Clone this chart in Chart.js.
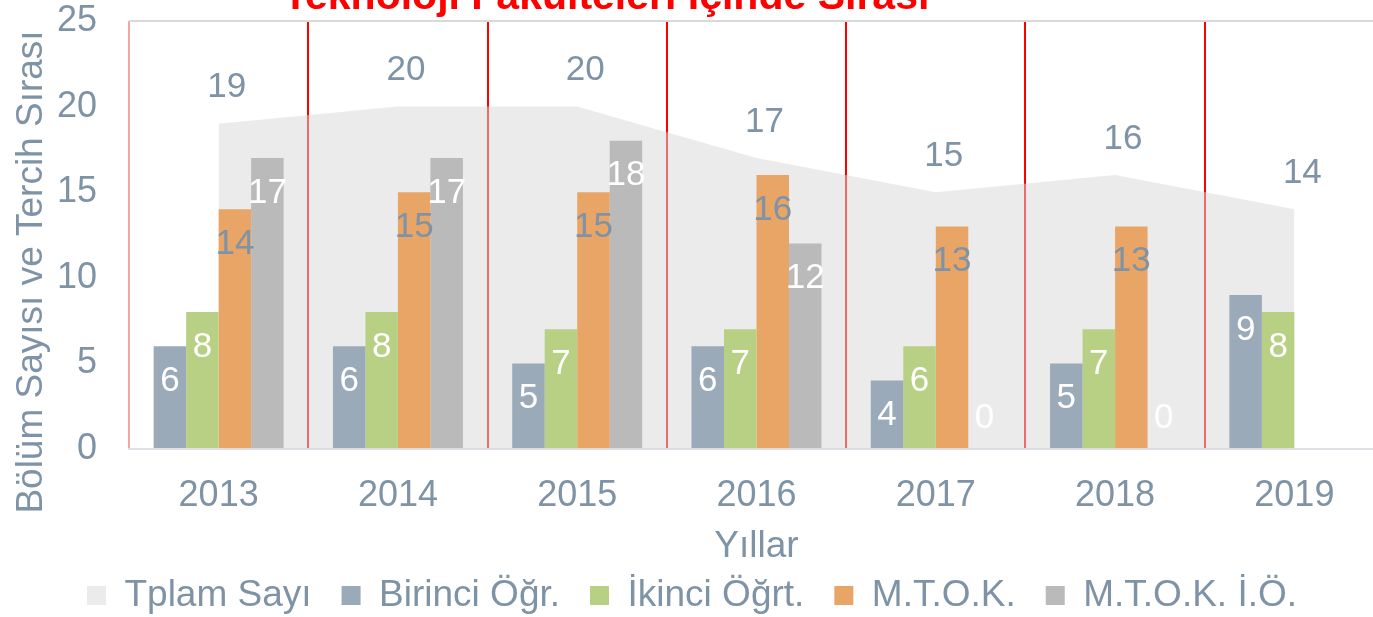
<!DOCTYPE html>
<html>
<head>
<meta charset="utf-8">
<script src="https://cdn.jsdelivr.net/npm/chart.js@4/dist/chart.umd.min.js"></script>
<style>
  html, body { margin: 0; padding: 0; background: #fff; width: 1373px; height: 617px; overflow: hidden; }
  #wrap { position: absolute; left: 0; top: 0; width: 1386px; height: 624px; }
</style>
</head>
<body>
<div id="wrap"><canvas id="c" width="1386" height="624"></canvas></div>
<script>
// ---- data ----
const years = ['2013', '2014', '2015', '2016', '2017', '2018', '2019'];
const toplamSayi = [19, 20, 20, 17, 15, 16, 14];
const birinciOgr = [6, 6, 5, 6, 4, 5, 9];
const ikinciOgrt = [8, 8, 7, 7, 6, 7, 8];
const mtok = [14, 15, 15, 16, 13, 13, null];
const mtokIO = [17, 17, 18, 12, 0, 0, null];
const seriesNames = ['Tplam Sayı', 'Birinci Öğr.', 'İkinci Öğrt.', 'M.T.O.K.', 'M.T.O.K. İ.Ö.'];
const chartTitle = 'Teknoloji Fakülteleri İçinde Sırası';
const yAxisTitle = 'Bölüm Sayısı ve Tercih Sırası';
const xAxisTitle = 'Yıllar';

// ---- styles ----
const FONT = "'Liberation Sans', Arial, sans-serif";
const TEXT = '#7F93A6';
Chart.defaults.font.family = FONT;
Chart.defaults.color = TEXT;

const labelColors = [TEXT, '#FFFFFF', '#FFFFFF', TEXT, '#FFFFFF'];

const labelPlugin = {
  id: 'valueLabels',
  afterDatasetsDraw(chart) {
    const ctx = chart.ctx;
    ctx.save();
    ctx.font = '35px ' + FONT;
    ctx.textAlign = 'center';
    ctx.textBaseline = 'middle';
    chart.data.datasets.forEach((ds, di) => {
      const meta = chart.getDatasetMeta(di);
      meta.data.forEach((el, i) => {
        const v = ds.data[i];
        if (v === null || v === undefined) return;
        ctx.fillStyle = labelColors[di];
        let x = el.x, y;
        if (meta.type === 'line') {
          x = el.x + 8;
          y = el.y - 36;
        } else if (v === 0) {
          y = el.base - 31;
        } else {
          y = el.y + 35;
        }
        ctx.fillText(String(v), x, y);
      });
    });
    ctx.restore();
  }
};

const textPlugin = {
  id: 'extraText',
  afterDraw(chart) {
    const ctx = chart.ctx;
    ctx.save();
    ctx.fillStyle = '#FF0000';
    ctx.font = 'bold 41px ' + FONT;
    ctx.textAlign = 'left';
    ctx.textBaseline = 'alphabetic';
    ctx.fillText(chartTitle, 283, 9);
    ctx.fillStyle = TEXT;
    ctx.font = '37px ' + FONT;
    ctx.translate(42, 272);
    ctx.rotate(-Math.PI / 2);
    ctx.textAlign = 'center';
    ctx.fillText(yAxisTitle, 0, 0);
    ctx.restore();
  }
};

new Chart(document.getElementById('c'), {
  data: {
    labels: years,
    datasets: [
      {
        type: 'line', label: seriesNames[0], data: toplamSayi,
        fill: 'origin', backgroundColor: 'rgba(215,215,215,0.5)',
        borderColor: 'transparent', borderWidth: 0, pointRadius: 0, tension: 0, order: 5
      },
      { type: 'bar', label: seriesNames[1], data: birinciOgr, backgroundColor: '#9BAAB8', order: 1 },
      { type: 'bar', label: seriesNames[2], data: ikinciOgrt, backgroundColor: '#B8D084', order: 1 },
      { type: 'bar', label: seriesNames[3], data: mtok, backgroundColor: '#E8A566', order: 1 },
      { type: 'bar', label: seriesNames[4], data: mtokIO, backgroundColor: '#BABABA', order: 1 }
    ]
  },
  options: {
    responsive: false,
    animation: false,
    devicePixelRatio: 1,
    layout: { padding: { top: 21, left: 0, right: 2, bottom: 0 } },
    datasets: { bar: { categoryPercentage: 0.725, barPercentage: 1, borderWidth: 0 } },
    plugins: {
      tooltip: { enabled: false },
      title: { display: false },
      legend: {
        position: 'bottom',
        labels: {
          font: { size: 37 },
          color: TEXT,
          boxWidth: 19,
          boxHeight: 19,
          padding: 30,
          sort: (a, b) => a.datasetIndex - b.datasetIndex
        }
      }
    },
    scales: {
      x: {
        type: 'category',
        offset: true,
        grid: {
          display: true, offset: true, drawTicks: false, lineWidth: 2,
          color: (c) => c.index === 0 ? '#F2A6A6' : '#FF0000'
        },
        border: { display: true, color: '#DDE1E6', width: 2 },
        ticks: { font: { size: 36, lineHeight: 1.15 }, color: TEXT, padding: 26, maxRotation: 0 },
        title: { display: true, text: xAxisTitle, font: { size: 37 }, color: TEXT, padding: { top: 0, bottom: -22 } },
        afterFit: (s) => { s.height = 98; }
      },
      y: {
        min: 0, max: 25,
        ticks: { stepSize: 5, font: { size: 36, lineHeight: 1.1 }, color: TEXT, padding: 0 },
        grid: {
          display: true, drawTicks: true, tickLength: 32, tickColor: 'transparent', lineWidth: 2,
          color: (c) => (c.tick && c.tick.value === 25) ? '#D9D9D9' : 'transparent'
        },
        border: { display: false },
        afterFit: (s) => { s.width = 129; }
      }
    }
  },
  plugins: [labelPlugin, textPlugin]
});
</script>
</body>
</html>
